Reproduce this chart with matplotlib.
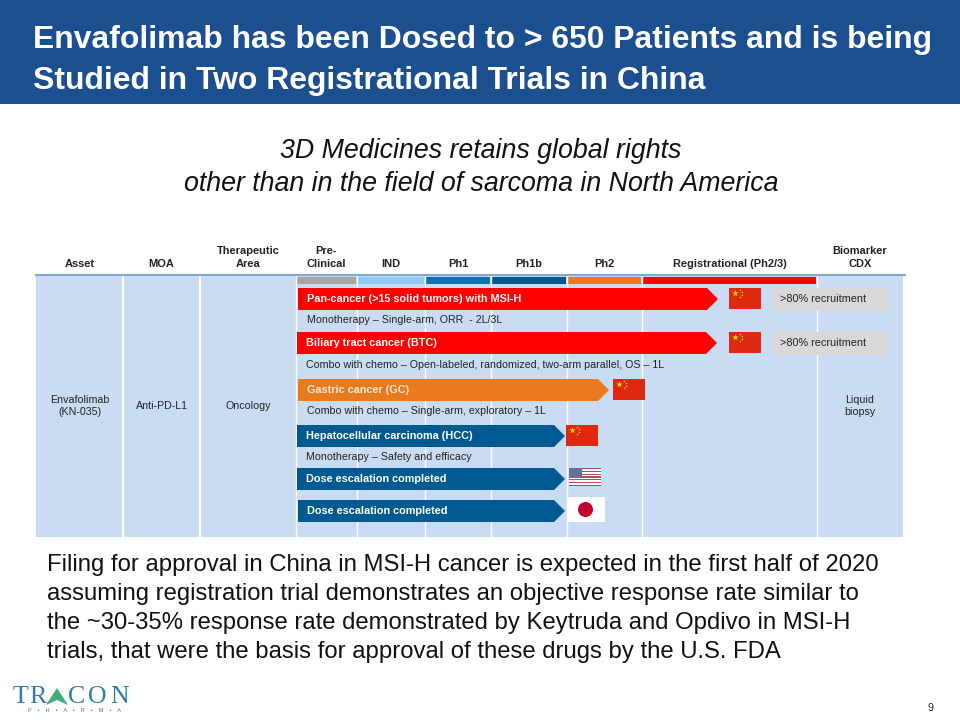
import matplotlib
matplotlib.use("Agg")
import matplotlib.pyplot as plt
from matplotlib.patches import Rectangle, Polygon, Circle

plt.rcParams['font.family'] = ['Liberation Sans', 'DejaVu Sans']

title_lines = ["Envafolimab has been Dosed to > 650 Patients and is being",
               "Studied in Two Registrational Trials in China"]
subtitle_lines = ["3D Medicines retains global rights",
                  "other than in the field of sarcoma in North America"]
body_lines = ["Filing for approval in China in MSI-H cancer is expected in the first half of 2020",
              "assuming registration trial demonstrates an objective response rate similar to",
              "the ~30-35% response rate demonstrated by Keytruda and Opdivo in MSI-H",
              "trials, that were the basis for approval of these drugs by the U.S. FDA"]
columns = ["Asset", "MOA", "Therapeutic\nArea", "Pre-\nClinical", "IND", "Ph1", "Ph1b", "Ph2",
           "Registrational (Ph2/3)", "Biomarker\nCDX"]
column_edges = [36, 123, 200, 296, 357, 425, 491, 567, 642, 817, 903]
phase_colors = ["#A6A6A6", "#8CCBF5", "#0F70B7", "#005A8F", "#E97B1E", "#FF0000"]
row_labels = ["Envafolimab\n(KN-035)", "Anti-PD-L1", "Oncology", "Liquid\nbiopsy"]

bar_labels = ["Pan-cancer (>15 solid tumors) with MSI-H", "Biliary tract cancer (BTC)",
              "Gastric cancer (GC)", "Hepatocellular carcinoma (HCC)",
              "Dose escalation completed", "Dose escalation completed"]
bar_starts = [298, 297, 298, 297, 297, 298]
bar_ends = [718, 717, 609, 565, 565, 565]
bar_tops = [288, 332, 379, 425, 468, 500]
bar_colors = ["#FF0000", "#FF0000", "#E97B1E", "#005A8F", "#005A8F", "#005A8F"]
bar_flags = ["cn", "cn", "cn", "cn", "us", "jp"]
bar_notes = [">80% recruitment", ">80% recruitment", None, None, None, None]
trial_notes = ["Monotherapy \u2013 Single-arm, ORR  - 2L/3L",
               "Combo with chemo \u2013 Open-labeled, randomized, two-arm parallel, OS \u2013 1L",
               "Combo with chemo \u2013 Single-arm, exploratory \u2013 1L",
               "Monotherapy \u2013 Safety and efficacy"]
trial_note_y = [320, 365, 411, 457]
flag_x = [729, 729, 613, 566, 569, 567]

fig = plt.figure(figsize=(9.6, 7.2), dpi=100, facecolor="white")
ax = fig.add_axes([0, 0, 1, 1])
ax.set_xlim(0, 960)
ax.set_ylim(720, 0)
ax.axis("off")

# Banner
ax.add_patch(Rectangle((0, 0), 960, 104, fc="#1B4F8F", ec="none"))
ax.text(33, 40, title_lines[0], color="white", fontsize=22.95, fontweight="bold", va="center", ha="left")
ax.text(33, 81, title_lines[1], color="white", fontsize=22.95, fontweight="bold", va="center", ha="left")

# Subtitle
ax.text(481, 151, subtitle_lines[0], fontsize=19.25, style="italic", ha="center", va="center", color="#111111")
ax.text(481, 184, subtitle_lines[1], fontsize=19.25, style="italic", ha="center", va="center", color="#111111")

# Table
ax.add_patch(Rectangle((36, 275), 867, 262, fc="#CADCF3", ec="none"))
for x in column_edges[1:3]:
    ax.plot([x, x], [275, 537], color="white", lw=1.6)
for x in column_edges[3:-1]:
    ax.plot([x, x], [275, 537], color="white", lw=1.0)
ax.plot([36, 905], [274.5, 274.5], color="#7FA8D8", lw=1.5)

for i, name in enumerate(columns):
    cx = (column_edges[i] + column_edges[i + 1]) / 2
    ax.text(cx, 269, name, fontsize=7.9, fontweight="bold", ha="center", va="bottom",
            color="#222222", linespacing=1.35)

# Phase strips
for i, c in enumerate(phase_colors):
    ax.add_patch(Rectangle((column_edges[i + 3] + 1, 277), column_edges[i + 4] - column_edges[i + 3] - 2.5, 6.5,
                           fc=c, ec="none"))

for x, y, t in zip([79.5, 161.5, 248, 860], [406, 406, 406, 406], row_labels):
    ax.text(x, y, t, fontsize=7.7, ha="center", va="center", color="#222222", linespacing=1.25)

def china(x, y, w=32, h=21):
    ax.add_patch(Rectangle((x, y), w, h, fc="#DE2910", ec="none", zorder=5))
    ax.scatter([x + 5.5], [y + 5], marker="*", s=24, c="#FFDE00", linewidths=0, zorder=6)
    ax.scatter([x + 11, x + 13, x + 13, x + 11], [y + 2, y + 4, y + 7, y + 9], marker="*", s=3,
               c="#FFDE00", linewidths=0, zorder=6)

def usa(x, y, w=32, h=18):
    ax.add_patch(Rectangle((x, y), w, h, fc="white", ec="none", zorder=5))
    for k in range(0, 13, 2):
        ax.add_patch(Rectangle((x, y + k * h / 13), w, h / 13, fc="#C0475A", ec="none", zorder=5))
    ax.add_patch(Rectangle((x, y), w * 0.42, h * 7 / 13, fc="#6A6F96", ec="none", zorder=6))

def japan(x, y, w=38, h=25):
    ax.add_patch(Rectangle((x, y), w, h, fc="white", ec="none", zorder=5))
    ax.add_patch(Circle((x + w / 2 - 0.5, y + h / 2), 7.5, fc="#C4002F", ec="none", zorder=6))

# Programme arrows
for lab, s, e, top, col, fl, note, fx in zip(bar_labels, bar_starts, bar_ends, bar_tops, bar_colors,
                                             bar_flags, bar_notes, flag_x):
    ax.add_patch(Polygon([(s, top), (e - 11, top), (e, top + 11), (e - 11, top + 22), (s, top + 22)],
                         closed=True, fc=col, ec="none", zorder=3))
    ax.text(s + 9, top + 11.3, lab, fontsize=7.85, fontweight="bold",
            color="white" if col != "#E97B1E" else "#FBE9D5", va="center", ha="left", zorder=4)
    if fl == "cn":
        china(fx, top)
    elif fl == "us":
        usa(fx, top)
    else:
        japan(fx, top - 3)
    if note:
        ax.add_patch(Rectangle((772, top), 117, 23, fc="#D9D9D9", ec="none", zorder=3))
        ax.text(780, top + 11.5, note, fontsize=7.8, va="center", ha="left", color="#222222", zorder=4)

for t, y, x in zip(trial_notes, trial_note_y, [307, 306, 307, 306]):
    ax.text(x, y, t, fontsize=7.7, va="center", ha="left", color="#222222", zorder=4)

# Body
for i, t in enumerate(body_lines):
    ax.text(47, 565 + i * 29, t, fontsize=17.22, va="center", ha="left", color="#111111")

# Footer
ax.text(930, 708, "9", fontsize=7.7, ha="center", va="center", color="#222222")
logo = "#2E7FA8"
for ch, x in zip("TRCON", [13, 29, 68, 88, 110]):
    ax.text(x, 697, ch, fontsize=18.6, family="Liberation Serif", color=logo, va="center", ha="left")
ax.add_patch(Polygon([(46, 705), (57, 688), (68, 705), (57, 700)], closed=True, fc="#3FAE7A", ec="none"))
ax.text(74, 710.5, "P    \u2022    H    \u2022    A    \u2022    R    \u2022    M    \u2022    A", fontsize=4,
        color=logo, ha="center", va="center")

fig.savefig("out.png", dpi=100)
